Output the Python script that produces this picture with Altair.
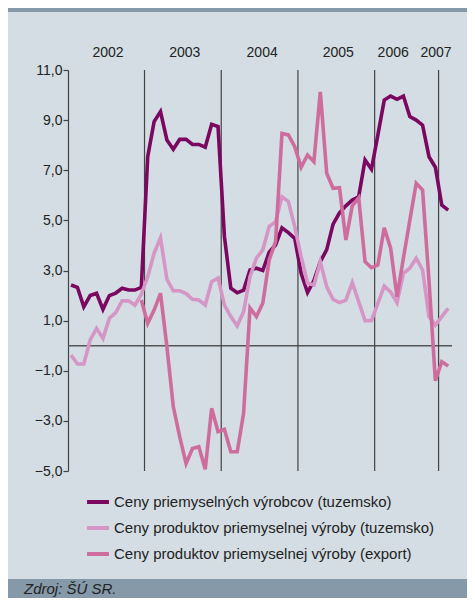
import altair as alt
import pandas as pd

# ---- data (monthly, Jan 2002 .. Dec 2006 index 0..59) ----
producer_dom = [2.42, 2.33, 1.55, 2.0, 2.09, 1.45, 2.0, 2.1, 2.29, 2.22, 2.22, 2.33,
                7.54, 8.94, 9.34, 8.21, 7.84, 8.23, 8.23, 8.03, 8.03, 7.92, 8.83, 8.74,
                4.35, 2.29, 2.11, 2.22, 3.02, 3.09, 3.0, 3.73, 4.02, 4.7, 4.51, 4.28,
                2.89, 2.12, 2.6, 3.35, 3.83, 4.85, 5.3, 5.58, 5.81, 5.94, 7.41, 7.04,
                8.4, 9.8, 9.96, 9.83, 9.96, 9.14, 9.0, 8.8, 7.54, 7.12, 5.61, 5.41]
products_dom = [-0.37, -0.73, -0.73, 0.23, 0.69, 0.29, 1.09, 1.32, 1.79, 1.79, 1.62, 2.05,
                2.75, 3.69, 4.3, 2.65, 2.19, 2.19, 2.08, 1.85, 1.82, 1.62, 2.55, 2.7,
                1.62, 1.16, 0.79, 1.36, 2.75, 3.49, 3.82, 4.75, 4.95, 5.94, 5.75, 4.75,
                3.55, 2.49, 2.42, 3.35, 2.35, 1.85, 1.72, 1.82, 2.52, 1.76, 1.0, 1.0,
                1.69, 2.38, 2.15, 1.72, 2.89, 3.09, 3.49, 3.02, 1.16, 0.82, 1.16, 1.49]
products_exp = [None] * 11 + [
                1.82,
                0.89, 1.42, 2.09, -0.04, -2.43, -3.63, -4.7, -4.1, -4.03, -4.93, -2.5, -3.43,
                -3.34, -4.23, -4.23, -2.7, 1.5, 1.16, 1.69, 3.42, 4.15, 8.47, 8.41, 7.94,
                7.12, 7.61, 7.34, 10.13, 6.88, 6.28, 6.3, 4.22, 5.58, 5.9, 3.35, 3.11,
                3.22, 4.7, 3.89, 1.95, 3.5, 5.0, 6.48, 6.21, 2.6, -1.4, -0.64, -0.81]

series_names = ["Ceny priemyselných výrobcov (tuzemsko)",
                "Ceny produktov priemyselnej výroby (tuzemsko)",
                "Ceny produktov priemyselnej výroby (export)"]
series_colors = ["#7b0760", "#d596c5", "#cf6c9e"]

year_labels = ["2002", "2003", "2004", "2005", "2006", "2007"]
year_label_pos = [5.8, 17.8, 29.9, 41.8, 50.4, 57.1]
year_breaks = [11.5, 23.5, 35.5, 47.5, 57.5]
y_ticks = [-5, -3, -1, 1, 3, 5, 7, 9, 11]
source_text = "Zdroj: ŠÚ SR."

rows = []
for name, vals in zip(series_names, [producer_dom, products_dom, products_exp]):
    for i, v in enumerate(vals):
        if v is not None:
            rows.append({"m": i, "v": v, "s": name})
df = pd.DataFrame(rows)

FONT = "Liberation Sans"
W, H = 384, 401
xs = alt.Scale(domain=[-0.47, 59.6], nice=False, zero=False)
ys = alt.Scale(domain=[-5, 11], nice=False, zero=False)
yaxis = alt.Axis(
    values=y_ticks, title=None, grid=False,
    labelExpr="replace(format(datum.value, '.1f'), '.', ',')",
    domainColor="#444", domainWidth=1.2, tickColor="#444", tickSize=5, tickWidth=1.2,
    labelFontSize=14, labelColor="#222", labelPadding=1, labelFont=FONT)

lines = alt.Chart(df).mark_line(strokeWidth=3.6).encode(
    x=alt.X("m:Q", scale=xs, axis=None),
    y=alt.Y("v:Q", scale=ys, axis=yaxis),
    color=alt.Color("s:N", scale=alt.Scale(domain=series_names, range=series_colors),
                    legend=alt.Legend(orient="none", legendX=17, legendY=419, title=None,
                                      symbolType="stroke", symbolSize=480, symbolStrokeWidth=4,
                                      labelFontSize=15, labelColor="#222", labelFont=FONT,
                                      rowPadding=5, labelOffset=3, labelLimit=0, padding=0)),
)

seps = alt.Chart(pd.DataFrame({"m": year_breaks})).mark_rule(color="#444", strokeWidth=1.2).encode(
    x=alt.X("m:Q", scale=xs, axis=None))

zero = alt.Chart(pd.DataFrame({"v": [0]})).mark_rule(color="#555", strokeWidth=1.6).encode(
    y=alt.Y("v:Q", scale=ys, axis=yaxis))

years = alt.Chart(pd.DataFrame({"m": year_label_pos, "year": year_labels})).mark_text(
    fontSize=14, color="#222", font=FONT, baseline="middle").encode(
    x=alt.X("m:Q", scale=xs, axis=None), y=alt.value(-17), text="year:N")

band_top = alt.Chart(pd.DataFrame({"a": [0]})).mark_rect(color="#8599a8").encode(
    x=alt.value(-60), x2=alt.value(399), y=alt.value(-62), y2=alt.value(-58))
band_bot = alt.Chart(pd.DataFrame({"a": [0]})).mark_rect(color="#8599a8").encode(
    x=alt.value(-60), x2=alt.value(399), y=alt.value(509), y2=alt.value(528))
src = alt.Chart(pd.DataFrame({"t": [source_text]})).mark_text(
    align="left", fontStyle="italic", fontSize=15, color="#222", font=FONT).encode(
    x=alt.value(-44), y=alt.value(519), text="t:N")

chart = alt.layer(band_top, band_bot, src, zero, seps, years, lines).properties(
    width=W, height=H, background="#d3dde3",
    autosize=alt.AutoSizeParams(type="none"),
    padding={"left": 60, "top": 62, "right": 15, "bottom": 127},
).configure_view(stroke=None)

chart.save("out.html", embed_options={"renderer": "svg", "actions": False})
